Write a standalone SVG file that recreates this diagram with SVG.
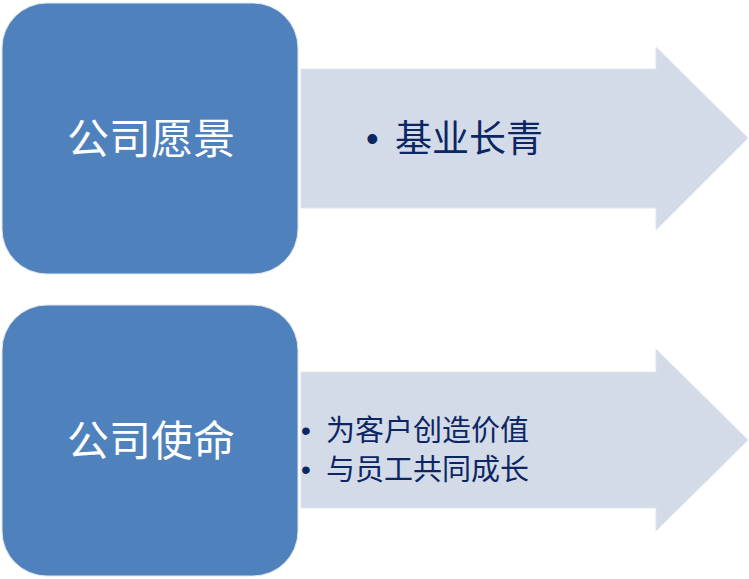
<svg xmlns="http://www.w3.org/2000/svg" width="749" height="579" viewBox="0 0 749 579">
<style>
.box{fill:#4f81bd;stroke:#dfe6f1;stroke-width:1}
.arrow{fill:#d3dbe8;stroke:#dfe6f1;stroke-width:1}
.title{font-family:"Liberation Sans","Noto Sans CJK SC",sans-serif;font-size:42px;fill:#ffffff;text-anchor:middle}
.item{font-family:"Liberation Sans","Noto Sans CJK SC",sans-serif;fill:#0c2663}
</style>
<rect width="749" height="579" fill="#ffffff"/>
<g id="connectors">
<path class="arrow" d="M301,69 H656 V47 L748,138 L656,230 V208 H301 Z"/>
<path class="arrow" d="M301,372 H656 V349 L748,440 L656,531 V508 H301 Z"/>
</g>
<g id="vision">
<rect class="box" x="2" y="3" width="296" height="271" rx="45" ry="45"/>
<text class="title" x="151" y="154">公司愿景</text>
</g>
<g id="vision-items">
<text class="item" x="366" y="151" font-size="36">•</text>
<text class="item" x="395" y="152" font-size="37">基业长青</text>
</g>
<g id="mission">
<rect class="box" x="2" y="305" width="296" height="271" rx="45" ry="45"/>
<text class="title" x="151" y="456">公司使命</text>
</g>
<g id="mission-items">
<text class="item" x="301" y="440" font-size="28">•</text>
<text class="item" x="326" y="441" font-size="29">为客户创造价值</text>
<text class="item" x="301" y="479" font-size="28">•</text>
<text class="item" x="326" y="480" font-size="29">与员工共同成长</text>
</g>
</svg>
